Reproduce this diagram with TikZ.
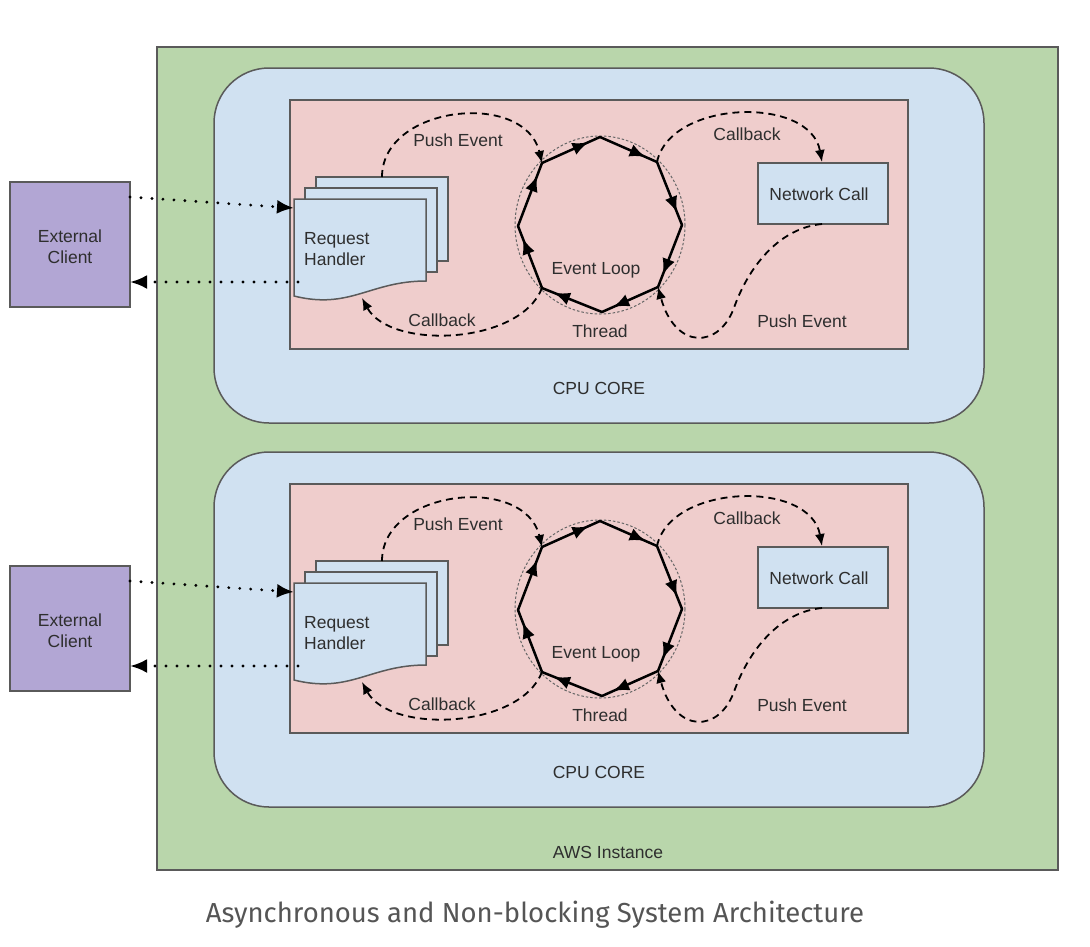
\documentclass[tikz,border=0pt]{standalone}
\usepackage{fontspec}
\setmainfont{Liberation Sans}
\newfontfamily\capfont{Fira Sans}
\usetikzlibrary{arrows.meta,decorations.markings,calc}

\definecolor{awsgreen}{HTML}{B9D6AB}
\definecolor{coreblue}{HTML}{D0E1F1}
\definecolor{looppink}{HTML}{EFCDCC}
\definecolor{clientpurple}{HTML}{B2A6D4}
\definecolor{edgegrey}{HTML}{5A5A5A}
\definecolor{inkgrey}{HTML}{2E2E2E}
\definecolor{capgrey}{HTML}{555555}

\newcommand\cpucore[2]{%
\begin{scope}[yshift=#2]
  % CPU core and loop area
  \draw[box, fill=coreblue, rounded corners=55pt] (214,68) rectangle (984,423);
  \node[lbl, anchor=base] (core#1) at (599,394) {CPU CORE};
  \draw[box, fill=looppink] (290,100) rectangle (908,349);
  % external client
  \node[box, fill=clientpurple, minimum width=120pt, minimum height=125pt] (ec#1) at (70,244.5) {};
  \node[lbl, anchor=base] (ect#1) at (70,242) {External};
  \node[lbl, anchor=base] (ecb#1) at (70,263) {Client};
  \coordinate (ecout#1) at (130,197);
  \coordinate (ecin#1) at (130,282);
  % request handler (stacked documents)
  \draw[box, fill=coreblue] (316,177) rectangle (448,261);
  \draw[box, fill=coreblue] (305,188) rectangle (437,272);
  \draw[box, fill=coreblue] (294,199) -- (426,199) -- (426,281)
     .. controls (370,281) and (350,310) .. (294,296) -- cycle;
  \node[lbl, anchor=base west] (rha#1) at (304,244) {Request};
  \node[lbl, anchor=base west] (rhb#1) at (304,265) {Handler};
  \coordinate (rhtop#1) at (382,177);
  \coordinate (rhin#1) at (294,208);
  \coordinate (rhout#1) at (298,282);
  \coordinate (rhcb#1) at (362,298);
  % event loop
  \coordinate (v1#1) at (600,137);
  \coordinate (v2#1) at (657,162);
  \coordinate (v3#1) at (682,225);
  \coordinate (v4#1) at (658,287);
  \coordinate (v5#1) at (602,312);
  \coordinate (v6#1) at (542,288);
  \coordinate (v7#1) at (518,226);
  \coordinate (v8#1) at (542,163);
  \draw[thread] (600,225) ellipse [x radius=85, y radius=89];
  \draw[loopedge] (v8#1) -- (v1#1);
  \draw[loopedge] (v1#1) -- (v2#1);
  \draw[loopedge] (v2#1) -- (v3#1);
  \draw[loopedge] (v3#1) -- (v4#1);
  \draw[loopedge] (v4#1) -- (v5#1);
  \draw[loopedge] (v5#1) -- (v6#1);
  \draw[loopedge] (v6#1) -- (v7#1);
  \draw[loopedge] (v7#1) -- (v8#1);
  \node[lbl, anchor=base] (el#1) at (596,274) {Event Loop};
  \node[lbl, anchor=base] (th#1) at (600,337) {Thread};
  % network call
  \node[box, fill=coreblue, minimum width=130pt, minimum height=61pt] (nc#1) at (823,193.5) {};
  \node[lbl, anchor=base] (nct#1) at (819,200) {Network Call};
  \coordinate (nctop#1) at (822,162);
  \coordinate (ncbot#1) at (822,224);
  \coordinate (pmid#1) at (735,305);
  % event connectors
  \draw[dasharrow] (rhtop#1) .. controls (382,105) and (525,90) .. (v8#1);
  \node[lbl, anchor=base] (pe1#1) at (458,146) {Push Event};
  \draw[dasharrow] (v6#1) .. controls (520,345) and (390,350) .. (rhcb#1);
  \node[lbl, anchor=base] (cb1#1) at (442,326) {Callback};
  \draw[dasharrow] (v2#1) .. controls (670,100) and (810,95) .. (nctop#1);
  \node[lbl, anchor=base] (cb2#1) at (747,140) {Callback};
  \draw[dasharrow] (ncbot#1) .. controls (780,228) and (750,265) .. (pmid#1)
     .. controls (720,350) and (675,350) .. (v4#1);
  \node[lbl, anchor=base] (pe2#1) at (802,327) {Push Event};
  % client connectors
  \draw[dotarrow] (ecout#1) -- (rhin#1);
  \draw[dotarrow] (rhout#1) -- (ecin#1);
\end{scope}}

\begin{document}
\begin{tikzpicture}[x=1pt,y=-1pt,
  lbl/.style={font=\fontsize{17.5}{21}\selectfont, text=inkgrey, inner sep=0pt},
  box/.style={draw=edgegrey, line width=1.5pt},
  thread/.style={draw=black!60, line width=1pt, dash pattern=on 2.5pt off 2pt},
  loopedge/.style={line width=2.5pt, line cap=round,
     decoration={markings, mark=at position 0.8 with {\arrow{Latex[length=16pt,width=13pt]}}},
     postaction={decorate}},
  dasharrow/.style={line width=1.8pt, dash pattern=on 7pt off 5pt, -{Latex[length=12pt,width=10pt]}},
  dotarrow/.style={line width=3.2pt, line cap=round, dash pattern=on 0pt off 11pt, -{Latex[length=17pt,width=14pt]}}
]
\useasboundingbox (0,0) rectangle (1090,946);
\fill[white] (0,0) rectangle (1090,946);
\draw[box, fill=awsgreen] (157,47) rectangle (1058,870);
\node[lbl, anchor=base] (aws) at (608,858) {AWS Instance};
\cpucore{a}{0pt}
\cpucore{b}{-384pt}
\node[font=\capfont\fontsize{27.5}{32}\selectfont, text=capgrey, anchor=base, inner sep=0pt] (caption) at (535,922) {Asynchronous and Non-blocking System Architecture};
\end{tikzpicture}
\end{document}
